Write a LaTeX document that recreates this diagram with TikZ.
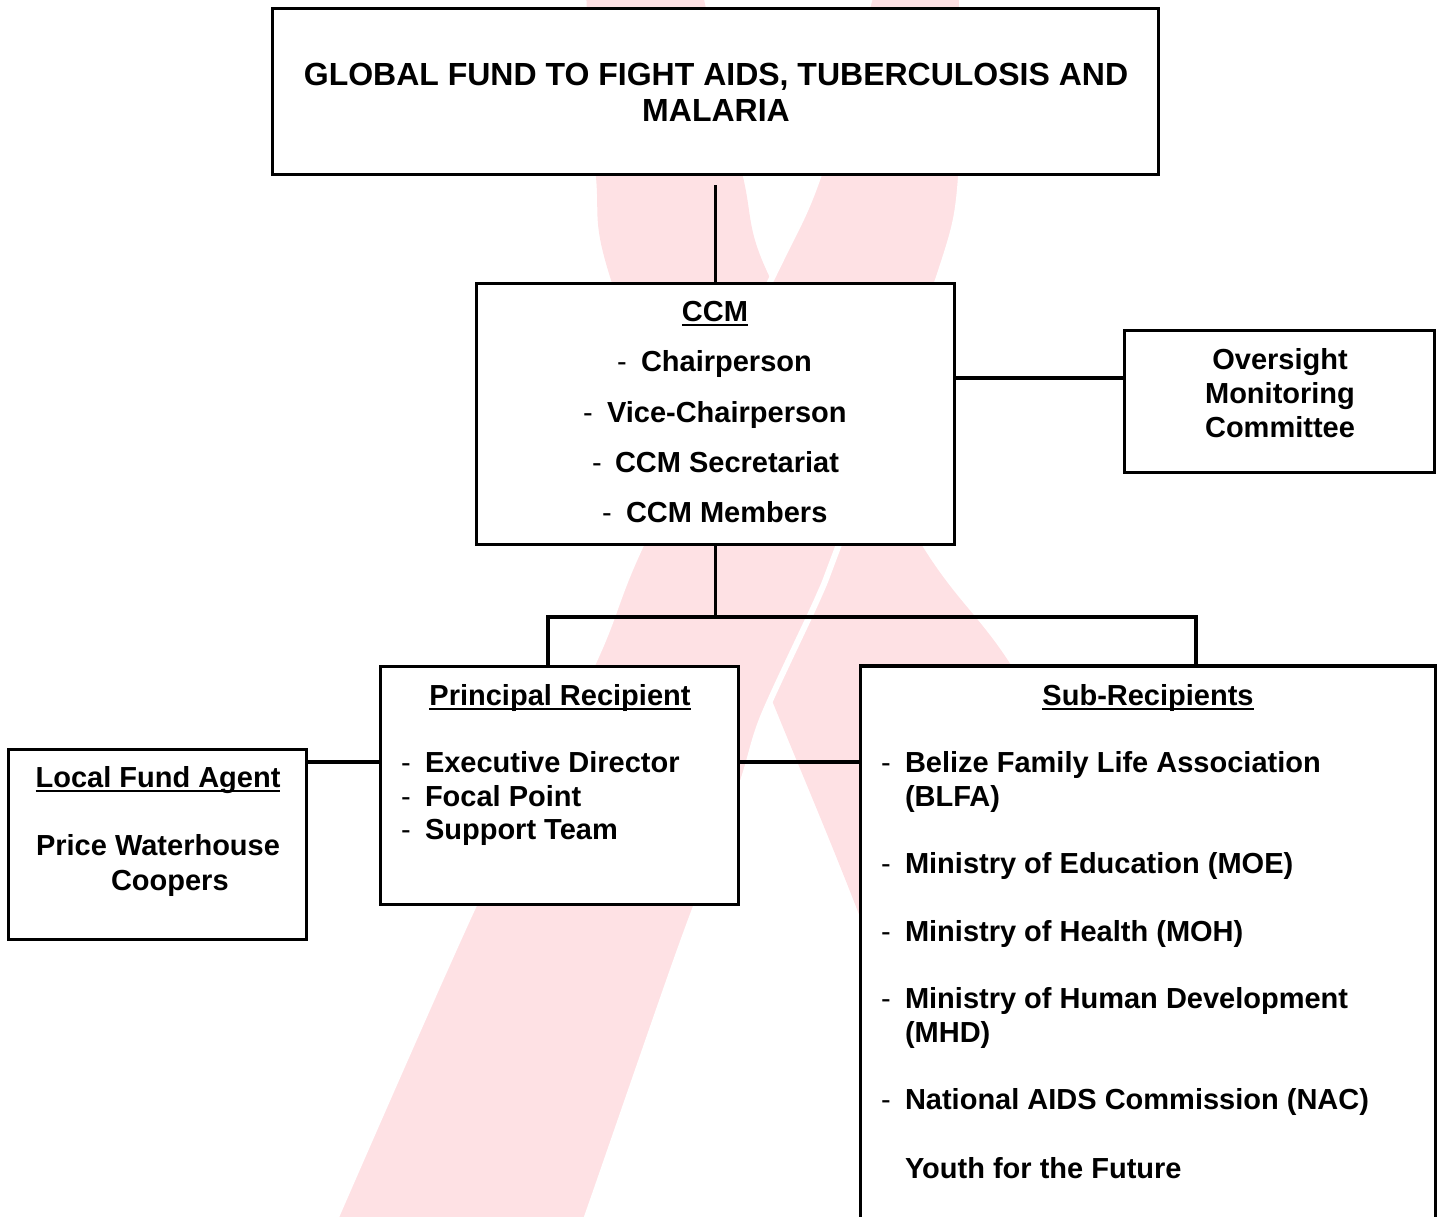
\documentclass[tikz,border=0pt]{standalone}
\usepackage{fontspec}
\setmainfont{Liberation Sans}
\definecolor{ribbon}{RGB}{254,225,228}
\begin{document}
\begin{tikzpicture}[x=1pt,y=-1pt,
  box/.style={draw=black, line width=3.6pt, fill=white, inner sep=0pt, outer sep=0pt},
  conn/.style={line width=3.3pt},
  tx/.style={inner sep=0pt, outer sep=0pt, font=\bfseries\fontsize{29}{33}\selectfont, anchor=base west},
  txc/.style={tx, anchor=base},
  ttl/.style={txc, font=\bfseries\fontsize{32}{36}\selectfont},
  dsh/.style={inner sep=0pt, outer sep=0pt, font=\fontsize{29}{33}\selectfont, anchor=base},
  uline/.style={line width=2.5pt}]
\useasboundingbox (0,0) rectangle (1448,1217);
% ribbon background
\begin{scope}
\clip (0,0) rectangle (1448,1217);
\fill[ribbon] plot[smooth, tension=0.5] coordinates {(586,-10) (596,177) (611,280) (731,600) (780,720) (860,917) (980,1240)}
  -- plot[smooth, tension=0.5] coordinates {(1320,1240) (1150,900) (1011,665) (923,547) (771,280) (743,177) (702,-10)} -- cycle;
\filldraw[fill=ribbon, draw=white, line width=6pt] plot[smooth, tension=0.5] coordinates {(872,-10) (818,177) (771,280) (640,547) (593,663) (473,907) (326,1240)}
  -- plot[smooth, tension=0.5] coordinates {(577,1240) (587,1217) (680,950) (740,790) (763,717) (817,600) (838,547) (939,277) (961,177) (962,-10)} -- cycle;
\end{scope}
% boxes
\node[box, minimum width=886pt, minimum height=166pt] (top) at (715.5,91.5) {};
\node[box, minimum width=478pt, minimum height=261pt] (ccm) at (715.5,414) {};
\node[box, minimum width=310pt, minimum height=142pt] (oms) at (1279.5,401.5) {};
\node[box, minimum width=358pt, minimum height=238pt] (pr) at (559.5,785.5) {};
\node[box, minimum width=575pt, minimum height=594pt] (sr) at (1148,963) {};
\node[box, minimum width=298pt, minimum height=190pt] (lfa) at (157.5,844.5) {};
% connectors
\coordinate (lvl1) at (0,378);
\coordinate (lvl2) at (0,762);
\coordinate (bl) at (548,617);
\coordinate (bri) at (1196,617);
\draw[conn] ([yshift=-11pt]top.south) -- (ccm.north);
\draw[conn] (ccm.east |- lvl1) -- (oms.west |- lvl1);
\draw[conn] (ccm.south) -- (ccm.south |- bl);
\draw[conn] (pr.north -| bl) -- (bl) -- (bri) -- (sr.north -| bri);
\draw[conn] (lfa.east |- lvl2) -- (pr.west |- lvl2);
\draw[conn] (pr.east |- lvl2) -- (sr.west |- lvl2);
% title
\node[ttl] (t1) at (716,85.5) {GLOBAL FUND TO FIGHT AIDS, TUBERCULOSIS AND};
\node[ttl] (t2) at (716,121.5) {MALARIA};
% CCM
\node[txc] (ccmh) at (715,321.4) {CCM};
\draw[uline] ([yshift=-3.5pt]ccmh.base west) -- ([yshift=-3.5pt]ccmh.base east);
\node[dsh] (cd1) at (622,371.4) {-}; \node[tx] (c1) at (641,371.4) {Chairperson};
\node[dsh] (cd2) at (588,422.4) {-}; \node[tx] (c2) at (607,422.4) {Vice-Chairperson};
\node[dsh] (cd3) at (597,472.4) {-}; \node[tx] (c3) at (615,472.4) {CCM Secretariat};
\node[dsh] (cd4) at (607,522.4) {-}; \node[tx] (c4) at (626,522.4) {CCM Members};
% Oversight
\node[txc] (o1) at (1280,369.4) {Oversight};
\node[txc] (o2) at (1280,403.4) {Monitoring};
\node[txc] (o3) at (1280,437.4) {Committee};
% Principal Recipient
\node[txc] (prh) at (560,705.4) {Principal Recipient};
\draw[uline] ([yshift=-3.5pt]prh.base west) -- ([yshift=-3.5pt]prh.base east);
\node[dsh] (pd1) at (406,772.4) {-}; \node[tx] (p1) at (425,772.4) {Executive Director};
\node[dsh] (pd2) at (406,806.4) {-}; \node[tx] (p2) at (425,806.4) {Focal Point};
\node[dsh] (pd3) at (406,839.4) {-}; \node[tx] (p3) at (425,839.4) {Support Team};
% Local Fund Agent
\node[txc] (lh) at (158,787.4) {Local Fund Agent};
\draw[uline] ([yshift=-3.5pt]lh.base west) -- ([yshift=-3.5pt]lh.base east);
\node[txc] (l1) at (158,855.4) {Price Waterhouse};
\node[tx] (l2) at (111,890.4) {Coopers};
% Sub-Recipients
\node[txc] (srh) at (1148,705.4) {Sub-Recipients};
\draw[uline] ([yshift=-3.5pt]srh.base west) -- ([yshift=-3.5pt]srh.base east);
\node[dsh] (sd1) at (886,772.4) {-}; \node[tx] (s1) at (905,772.4) {Belize Family Life Association};
\node[tx] (s1b) at (905,806.4) {(BLFA)};
\node[dsh] (sd2) at (886,873.4) {-}; \node[tx] (s2) at (905,873.4) {Ministry of Education (MOE)};
\node[dsh] (sd3) at (886,941.4) {-}; \node[tx] (s3) at (905,941.4) {Ministry of Health (MOH)};
\node[dsh] (sd4) at (886,1008.4) {-}; \node[tx] (s4) at (905,1008.4) {Ministry of Human Development};
\node[tx] (s4b) at (905,1042.4) {(MHD)};
\node[dsh] (sd5) at (886,1109.4) {-}; \node[tx] (s5) at (905,1109.4) {National AIDS Commission (NAC)};
\node[tx] (s6) at (905,1178.4) {Youth for the Future};
\end{tikzpicture}
\end{document}
